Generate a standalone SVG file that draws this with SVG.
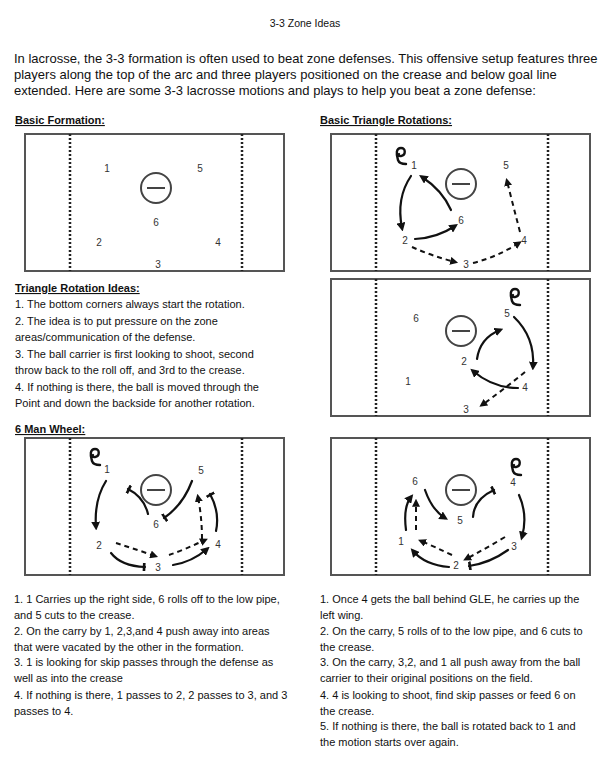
<svg xmlns="http://www.w3.org/2000/svg" width="611" height="759" viewBox="0 0 611 759">
<style>
text{font-family:"Liberation Sans",Arial,sans-serif;fill:#111}
.b{font-size:11px}
.h{font-size:11px;font-weight:bold;text-decoration:underline}
.p{font-size:13px}
.n{font-size:10px;fill:#333;text-anchor:middle}
.box{fill:#fff;stroke:#555;stroke-width:2}
.dot{stroke:#222;stroke-width:2.5;stroke-dasharray:2 2}
.goal{fill:none;stroke:#444;stroke-width:2}
.s{fill:none;stroke:#111;stroke-width:2.2;stroke-linecap:round}
.d{fill:none;stroke:#111;stroke-width:2;stroke-dasharray:5 4}
.a{marker-end:url(#ah)}
.t{marker-end:url(#bar)}
</style>
<defs>
<marker id="ah" viewBox="0 0 10 10" refX="6" refY="5" markerWidth="4" markerHeight="4" orient="auto" markerUnits="strokeWidth"><path d="M0 0L10 5L0 10z" fill="#111"/></marker>
<marker id="bar" viewBox="0 0 10 10" refX="5" refY="5" markerWidth="4" markerHeight="4" orient="auto" markerUnits="strokeWidth"><path d="M4 0V10" stroke="#111" stroke-width="3"/></marker>
<g id="field"><rect class="box" x="0" y="0" width="259" height="137"/><line class="dot" x1="45" y1="0" x2="45" y2="137"/><line class="dot" x1="217" y1="0" x2="217" y2="137"/></g>
<g id="gl"><circle class="goal" cx="0" cy="0" r="15"/><line x1="-9" y1="0" x2="9" y2="0" stroke="#444" stroke-width="2"/></g>
<path id="stick" d="M2 10 C0 4 0 -2 5 -2 C10 -2 10 5 5 6 C3 6.5 2 5 3 4 M2 10 C3 13 6 14 10 14" fill="none" stroke="#111" stroke-width="2.4" stroke-linecap="round"/>
</defs>
<text x="305" y="27" font-size="10.5" text-anchor="middle">3-3 Zone Ideas</text>
<text class="p" x="14" y="63">In lacrosse, the 3-3 formation is often used to beat zone defenses. This offensive setup features three</text>
<text class="p" x="14" y="79">players along the top of the arc and three players positioned on the crease and below goal line</text>
<text class="p" x="14" y="95">extended. Here are some 3-3 lacrosse motions and plays to help you beat a zone defense:</text>
<text class="h" x="15" y="124">Basic Formation:</text>
<text class="h" x="320" y="124">Basic Triangle Rotations:</text>

<g id="formation">
<use href="#field" x="25" y="134"/><use href="#gl" x="156" y="188"/>
<text class="n" x="107" y="172">1</text><text class="n" x="200" y="172">5</text><text class="n" x="156" y="226">6</text>
<text class="n" x="99" y="246">2</text><text class="n" x="218" y="246">4</text><text class="n" x="158" y="268">3</text>
</g>

<g id="triangle1">
<use href="#field" x="331" y="134"/><use href="#gl" x="461" y="184"/>
<use href="#stick" x="396" y="150"/>
<text class="n" x="414" y="169">1</text><text class="n" x="506" y="169">5</text><text class="n" x="461" y="224">6</text>
<text class="n" x="405" y="244">2</text><text class="n" x="524" y="244">4</text><text class="n" x="466" y="268">3</text>
</g>

<g id="triangle2">
<use href="#field" x="331" y="279"/><use href="#gl" x="461" y="331"/>
<use href="#stick" x="510" y="291"/>
<text class="n" x="416" y="322">6</text><text class="n" x="507" y="317">5</text><text class="n" x="464" y="365">2</text>
<text class="n" x="408" y="385">1</text><text class="n" x="525" y="391">4</text><text class="n" x="466" y="413">3</text>
</g>

<text class="h" x="15" y="292">Triangle Rotation Ideas:</text>
<text class="b" x="15" y="308">1. The bottom corners always start the rotation.</text>
<text class="b" x="15" y="325">2. The idea is to put pressure on the zone</text>
<text class="b" x="15" y="341">areas/communication of the defense.</text>
<text class="b" x="15" y="358">3. The ball carrier is first looking to shoot, second</text>
<text class="b" x="15" y="374">throw back to the roll off, and 3rd to the crease.</text>
<text class="b" x="15" y="391">4. If nothing is there, the ball is moved through the</text>
<text class="b" x="15" y="407">Point and down the backside for another rotation.</text>
<text class="h" x="15" y="433">6 Man Wheel:</text>

<g id="wheel1">
<use href="#field" x="25" y="438"/><use href="#gl" x="156" y="490"/>
<use href="#stick" x="90" y="451"/>
<text class="n" x="107" y="473">1</text><text class="n" x="201" y="474">5</text><text class="n" x="156" y="528">6</text>
<text class="n" x="99" y="549">2</text><text class="n" x="218" y="548">4</text><text class="n" x="158" y="571">3</text>
</g>

<g id="wheel2">
<use href="#field" x="331" y="438"/><use href="#gl" x="461" y="490"/>
<use href="#stick" x="511" y="461"/>
<text class="n" x="415" y="485">6</text><text class="n" x="513" y="486">4</text><text class="n" x="460" y="524">5</text>
<text class="n" x="401" y="545">1</text><text class="n" x="514" y="550">3</text><text class="n" x="456" y="569">2</text>
</g>

<g id="connectors">
<path class="s a" d="M411 176 Q396 198 402 228"/>
<path class="s a" d="M451 210 Q442 190 422 177"/>
<path class="s a" d="M415 239 Q437 238 455 226"/>
<path class="d a" d="M412 247 Q432 256 455 262"/>
<path class="d a" d="M473 263 Q497 257 519 243"/>
<path class="d a" d="M520 232 Q513 205 507 181"/>
<path class="s a" d="M514 317 Q535 337 533 367"/>
<path class="s a" d="M477 359 Q480 338 500 330"/>
<path class="s a" d="M518 388 Q493 388 473 371"/>
<path class="d a" d="M525 372 Q503 390 482 405"/>
<path class="s a" d="M106 481 Q94 500 96 527"/>
<path class="s t" d="M148 514 Q144 497 128 489"/>
<path class="s t" d="M192 481 Q183 505 164 518"/>
<path class="s t" d="M216 531 Q220 512 210 494"/>
<path class="d a" d="M202 539 Q202 518 198 497"/>
<path class="d a" d="M116 543 Q135 549 155 556"/>
<path class="d a" d="M169 555 Q186 549 205 540"/>
<path class="s t" d="M111 553 Q121 566 145 567"/>
<path class="s a" d="M173 565 Q192 562 207 549"/>
<path class="s a" d="M425 490 Q432 510 445 518"/>
<path class="s t" d="M473 517 Q474 499 494 490"/>
<path class="s a" d="M519 495 Q528 515 522 537"/>
<path class="s a" d="M406 530 Q403 507 411 497"/>
<path class="d a" d="M416 530 L416 502"/>
<path class="d a" d="M505 537 Q485 549 466 559"/>
<path class="d a" d="M452 555 Q435 547 421 541"/>
<path class="s a" d="M449 567 Q425 565 413 551"/>
<path class="s t" d="M508 550 Q490 563 469 566"/>
</g>

<text class="b" x="14" y="603">1. 1 Carries up the right side, 6 rolls off to the low pipe,</text>
<text class="b" x="14" y="619">and 5 cuts to the crease.</text>
<text class="b" x="14" y="635">2. On the carry by 1, 2,3,and 4 push away into areas</text>
<text class="b" x="14" y="651">that were vacated by the other in the formation.</text>
<text class="b" x="14" y="666">3. 1 is looking for skip passes through the defense as</text>
<text class="b" x="14" y="682">well as into the crease</text>
<text class="b" x="14" y="699">4. If nothing is there, 1 passes to 2, 2 passes to 3, and 3</text>
<text class="b" x="14" y="715">passes to 4.</text>
<text class="b" x="320" y="603">1. Once 4 gets the ball behind GLE, he carries up the</text>
<text class="b" x="320" y="619">left wing.</text>
<text class="b" x="320" y="635">2. On the carry, 5 rolls of to the low pipe, and 6 cuts to</text>
<text class="b" x="320" y="651">the crease.</text>
<text class="b" x="320" y="666">3. On the carry, 3,2, and 1 all push away from the ball</text>
<text class="b" x="320" y="682">carrier to their original positions on the field.</text>
<text class="b" x="320" y="699">4. 4 is looking to shoot, find skip passes or feed 6 on</text>
<text class="b" x="320" y="715">the crease.</text>
<text class="b" x="320" y="730">5. If nothing is there, the ball is rotated back to 1 and</text>
<text class="b" x="320" y="746">the motion starts over again.</text>
</svg>
